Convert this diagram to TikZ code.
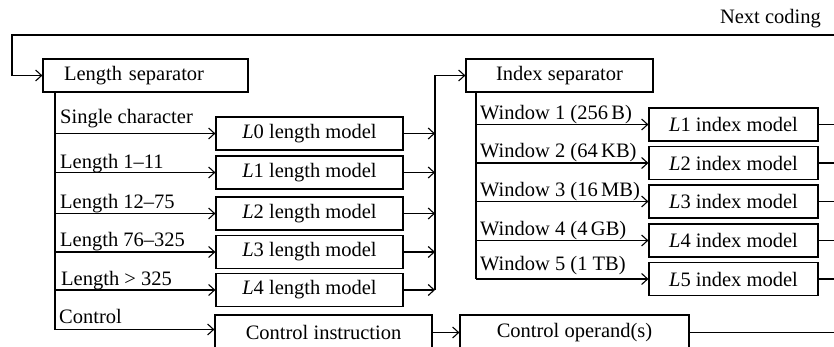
\documentclass[tikz,border=0pt]{standalone}
\usepackage{fontspec}
\setmainfont{Liberation Serif}
\usetikzlibrary{arrows.meta}
\tikzset{
  box/.style={draw, line width=1.2pt, minimum height=33pt, inner sep=0pt, anchor=center},
  arr/.style={line width=1.2pt, -{Straight Barb[length=6pt,width=11pt,line width=1.1pt]}},
  ln/.style={line width=1.2pt},
  lbl/.style={anchor=base west, inner sep=0pt},
}
\begin{document}
\begin{tikzpicture}[x=1pt,y=-1pt,font=\fontsize{20.5}{24}\selectfont]
\clip (0,0) rectangle (834,347);
% boxes
\node[box, text width=163pt, inner xsep=21pt, align=left] (lsep) at (145.5,75.5) {Length separator};
\node[box, minimum width=187pt] (isep) at (559.5,75.5) {Index separator};
\node[box, minimum width=187pt] (L0) at (309.5,133.5) {\textit{L}0 length model};
\node[box, minimum width=187pt] (L1) at (309.5,172.5) {\textit{L}1 length model};
\node[box, minimum width=187pt] (L2) at (309.5,213.5) {\textit{L}2 length model};
\node[box, minimum width=187pt] (L3) at (309.5,252) {\textit{L}3 length model};
\node[box, minimum width=187pt] (L4) at (309.5,290) {\textit{L}4 length model};
\node[box, minimum width=169pt] (I1) at (733.5,124.5) {\textit{L}1 index model};
\node[box, minimum width=169pt] (I2) at (733.5,163) {\textit{L}2 index model};
\node[box, minimum width=169pt] (I3) at (733.5,201.5) {\textit{L}3 index model};
\node[box, minimum width=169pt] (I4) at (733.5,240.5) {\textit{L}4 index model};
\node[box, minimum width=169pt] (I5) at (733.5,279) {\textit{L}5 index model};
\node[box, minimum width=217pt, minimum height=35pt] (CI) at (323.5,332.5) {Control instruction};
\node[box, minimum width=229pt, minimum height=35pt] (CO) at (574.5,332.5) {Control operand(s)};
% labels
\node[anchor=base east, inner sep=0pt] (nextc) at (821,24) {Next coding};
\node[lbl] (t0) at (60,124) {Single character};
\node[lbl] (t1) at (60,169) {Length 1--11};
\node[lbl] (t2) at (60,208) {Length 12--75};
\node[lbl] (t3) at (60,246) {Length 76--325};
\node[lbl] (t4) at (61,285) {Length > 325};
\node[lbl] (t5) at (59,323) {Control};
\node[lbl] (w1) at (480,120) {Window 1 (256\,B)};
\node[lbl] (w2) at (480,158) {Window 2 (64\,KB)};
\node[lbl] (w3) at (480,197) {Window 3 (16\,MB)};
\node[lbl] (w4) at (480,236) {Window 4 (4\,GB)};
\node[lbl] (w5) at (480,270) {Window 5 (1 TB)};
% coordinates
\coordinate (nc) at (834,35);
\coordinate (loopc) at (12,35);
\coordinate (ls) at (55,92);
\coordinate (cy) at (0,329.5);
\coordinate (ms) at (435,0);
\coordinate (is) at (476,92);
\coordinate (re) at (834,0);
% top loop
\draw[arr] (nc) -- (loopc) |- (lsep.west);
% length spine
\draw[ln] (ls) -- (ls |- cy);
\foreach \n in {L0,L1,L2,L3,L4}{
  \draw[arr] (ls |- \n.west) -- (\n.west);
  \draw[arr] (\n.east) -- (ms |- \n.east);
}
\draw[arr] (ls |- cy) -- (CI.west |- cy);
% merge spine
\draw[arr] (ms |- L4.east) -- (ms |- isep.west) -- (isep.west);
% index spine
\draw[ln] (is) -- (is |- I5.west);
\foreach \n in {I1,I2,I3,I4,I5}{
  \draw[arr] (is |- \n.west) -- (\n.west);
  \draw[ln] (\n.east) -- (re |- \n.east);
}
% control
\draw[arr] (CI.east) -- (CO.west);
\draw[ln] (CO.east) -- (re |- CO.east);
\end{tikzpicture}
\end{document}
